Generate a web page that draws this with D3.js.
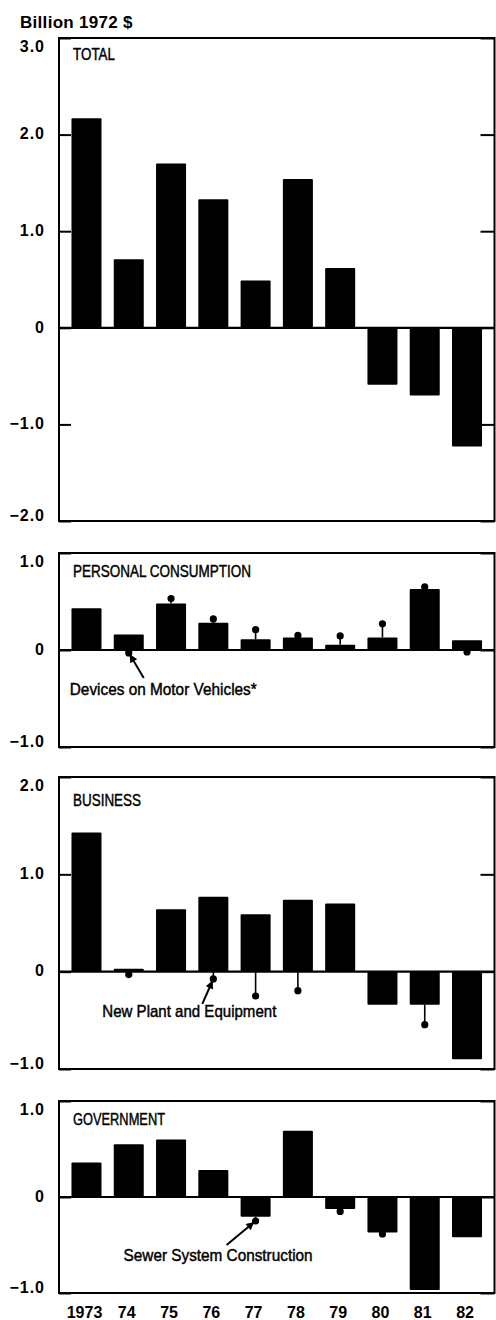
<!DOCTYPE html>
<html>
<head>
<meta charset="utf-8">
<script src="https://cdn.jsdelivr.net/npm/d3@7"></script>
<style>
  html, body { margin: 0; padding: 0; background: #fff; }
  svg { display: block; }
</style>
</head>
<body>
<svg id="chart" width="496" height="1320"></svg>
<script>
// ---------------- DATA ----------------
const years = ["1973", "74", "75", "76", "77", "78", "79", "80", "81", "82"];

const totalValues      = [2.17, 0.71, 1.70, 1.33, 0.49, 1.54, 0.62, -0.59, -0.70, -1.23];
const personalValues   = [0.43, 0.16, 0.48, 0.28, 0.11, 0.13, 0.055, 0.13, 0.63, 0.10];
const businessValues   = [1.43, 0.03, 0.64, 0.77, 0.59, 0.74, 0.70, -0.34, -0.34, -0.90];
const governmentValues = [0.36, 0.55, 0.60, 0.28, -0.205, 0.69, -0.125, -0.37, -0.97, -0.42];

// component dots (null = hidden inside the bar / not shown)
const devicesValues = [null, -0.03, 0.53, 0.32, 0.21, 0.15, 0.145, 0.27, 0.65, -0.02];
const plantValues   = [null, -0.03, null, -0.075, -0.25, -0.195, null, null, -0.545, null];
const sewerValues   = [null, null, null, null, -0.25, null, -0.15, -0.385, null, null];

const totalTicks      = [-2, -1, 0, 1, 2, 3];
const personalTicks   = [-1, 0, 1];
const businessTicks   = [-1, 0, 1, 2];
const governmentTicks = [-1, 0, 1];

const panelTitles = ["TOTAL", "PERSONAL CONSUMPTION", "BUSINESS", "GOVERNMENT"];
const unitLabel = "Billion 1972 $";
const annotationTexts = ["Devices on Motor Vehicles*", "New Plant and Equipment", "Sewer System Construction"];

// ---------------- LAYOUT ----------------
const X0 = 59, X1 = 494.5;
const FONT = "'Liberation Sans', Arial, Helvetica, sans-serif";

const panels = [
  { title: panelTitles[0], values: totalValues, dots: null, ticks: totalTicks,
    top: 38, bottom: 521, titleLen: 42, titleBase: 22 },
  { title: panelTitles[1], values: personalValues, dots: devicesValues, ticks: personalTicks,
    top: 553, bottom: 747, titleLen: 178, titleBase: 23.5,
    note: { text: annotationTexts[0], idx: 1, tail: [15, 25], tx: -59, ty: 42, len: 187 } },
  { title: panelTitles[2], values: businessValues, dots: plantValues, ticks: businessTicks,
    top: 777, bottom: 1069, titleLen: 68, titleBase: 29,
    note: { text: annotationTexts[1], idx: 3, tail: [-11, 25], tx: -111, ty: 38.5, len: 174 } },
  { title: panelTitles[3], values: governmentValues, dots: sewerValues, ticks: governmentTicks,
    top: 1101, bottom: 1293, titleLen: 92, titleBase: 24,
    note: { text: annotationTexts[2], idx: 4, tail: [-29, 24], tx: -132, ty: 40, len: 189 } }
];

const svg = d3.select("#chart");

svg.append("defs").append("marker")
  .attr("id", "arrow")
  .attr("viewBox", "0 0 10 10")
  .attr("refX", 9).attr("refY", 5)
  .attr("markerUnits", "userSpaceOnUse")
  .attr("markerWidth", 9).attr("markerHeight", 8)
  .attr("orient", "auto")
  .append("path").attr("d", "M0,0 L10,5 L0,10 z").attr("fill", "#000");

svg.append("text")
  .attr("x", 20).attr("y", 27.5)
  .attr("font-family", FONT).attr("font-weight", "bold")
  .attr("font-size", 17).attr("letter-spacing", 0.3)
  .attr("fill", "#000")
  .text(unitLabel);

const x = d3.scaleBand()
  .domain(years)
  .range([X0, X1])
  .paddingInner(0.29)
  .paddingOuter(0.295);

const fmt = v => v === 0 ? "0" : (v < 0 ? "\u2212" : "") + Math.abs(v).toFixed(1);

panels.forEach((p, pi) => {
  const dom = d3.extent(p.ticks);
  const y = d3.scaleLinear().domain(dom).range([p.bottom, p.top]);
  const g = svg.append("g");

  // bars
  g.selectAll("rect.bar")
    .data(p.values)
    .join("rect")
    .attr("class", "bar")
    .attr("x", (d, i) => x(years[i]))
    .attr("width", x.bandwidth())
    .attr("y", d => y(Math.max(0, d)))
    .attr("height", d => Math.abs(y(d) - y(0)))
    .attr("rx", 1)
    .attr("fill", "#000");

  // zero line
  g.append("line")
    .attr("x1", X0).attr("x2", X1)
    .attr("y1", y(0)).attr("y2", y(0))
    .attr("stroke", "#000").attr("stroke-width", 2.2);

  // left axis
  const ax = g.append("g")
    .attr("transform", `translate(${X0},0)`)
    .call(d3.axisLeft(y).tickValues(p.ticks).tickSize(-12).tickPadding(14).tickFormat(fmt));
  ax.select(".domain").remove();
  ax.selectAll(".tick line").attr("stroke", "#000").attr("stroke-width", 2);
  ax.selectAll(".tick text")
    .attr("font-family", FONT).attr("font-weight", "bold")
    .attr("font-size", 16).attr("letter-spacing", 1)
    .attr("fill", "#000")
    .attr("dy", d => d === dom[1] ? "0.85em" : (d === dom[0] ? "-0.05em" : "0.27em"));

  // right axis (ticks only)
  const axR = g.append("g")
    .attr("transform", `translate(${X1},0)`)
    .call(d3.axisRight(y).tickValues(p.ticks).tickSize(-14).tickFormat(""));
  axR.select(".domain").remove();
  axR.selectAll(".tick line").attr("stroke", "#000").attr("stroke-width", 2);

  // frame
  g.append("rect")
    .attr("x", X0).attr("y", p.top)
    .attr("width", X1 - X0).attr("height", p.bottom - p.top)
    .attr("fill", "none").attr("stroke", "#000").attr("stroke-width", 2);

  // panel title
  g.append("text")
    .attr("x", 73).attr("y", p.top + p.titleBase)
    .attr("font-family", FONT).attr("font-size", 17)
    .attr("textLength", p.titleLen).attr("lengthAdjust", "spacingAndGlyphs")
    .attr("fill", "#000").attr("stroke", "#000").attr("stroke-width", 0.45)
    .text(p.title);

  // component dots with stems
  if (p.dots) {
    const cx = i => x(years[i]) + x.bandwidth() / 2;
    const items = p.dots.map((d, i) => ({ d, i, v: p.values[i] })).filter(o => o.d !== null);
    g.selectAll("line.stem")
      .data(items)
      .join("line")
      .attr("class", "stem")
      .attr("x1", o => cx(o.i)).attr("x2", o => cx(o.i))
      .attr("y1", o => y(Math.max(Math.min(o.d, Math.max(0, o.v)), Math.min(0, o.v))))
      .attr("y2", o => y(o.d))
      .attr("stroke", "#000").attr("stroke-width", 1.6);
    g.selectAll("circle.dot")
      .data(items)
      .join("circle")
      .attr("class", "dot")
      .attr("cx", o => cx(o.i)).attr("cy", o => y(o.d))
      .attr("r", 3.6)
      .attr("fill", "#000");

    if (p.note) {
      const n = p.note;
      const px = cx(n.idx), py = y(p.dots[n.idx]);
      const tx = px + n.tail[0], ty = py + n.tail[1];
      const ang = Math.atan2(py - ty, px - tx);
      const ex = px - Math.cos(ang) * 2.5, ey = py - Math.sin(ang) * 2.5;
      g.append("line")
        .attr("x1", tx).attr("y1", ty).attr("x2", ex).attr("y2", ey)
        .attr("stroke", "#000").attr("stroke-width", 2)
        .attr("marker-end", "url(#arrow)");
      g.append("text")
        .attr("x", px + n.tx).attr("y", py + n.ty)
        .attr("font-family", FONT).attr("font-size", 17)
        .attr("textLength", n.len).attr("lengthAdjust", "spacingAndGlyphs")
        .attr("fill", "#000").attr("stroke", "#000").attr("stroke-width", 0.45)
        .text(n.text);
    }
  }

  // year labels under last panel
  if (pi === panels.length - 1) {
    const xa = g.append("g")
      .attr("transform", `translate(0,${p.bottom})`)
      .call(d3.axisBottom(x).tickSize(0).tickPadding(14));
    xa.select(".domain").remove();
    xa.selectAll(".tick text")
      .attr("font-family", FONT).attr("font-weight", "bold")
      .attr("font-size", 16).attr("fill", "#000")
      .attr("dx", -2);
  }
});
</script>
</body>
</html>
